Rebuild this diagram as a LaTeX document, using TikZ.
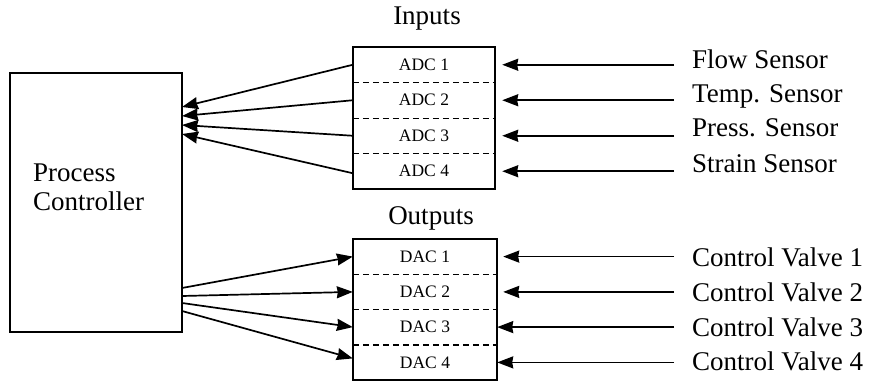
\documentclass[tikz,border=0pt]{standalone}
\usepackage{fontspec}
\setmainfont{Liberation Serif}
\usetikzlibrary{arrows.meta}
\begin{document}
\begin{tikzpicture}[x=1pt,y=-1pt,
  big/.style={font=\fontsize{27}{29}\selectfont, inner sep=0pt},
  lbl/.style={font=\fontsize{27}{29}\selectfont, inner ysep=0pt, inner xsep=18pt, anchor=base west},
  cell/.style={minimum height=35.5pt, inner sep=0pt, font=\fontsize{17.5}{19}\selectfont},
  box/.style={draw, line width=1.6pt},
  sepline/.style={line width=1.2pt, dash pattern=on 6pt off 4pt},
  arr/.style={line width=1.7pt, -{Stealth[length=16pt,width=12pt,inset=1pt]}},
]
\useasboundingbox (0,0) rectangle (877,382);

% controller
\node[box, minimum width=172pt, minimum height=259pt, inner sep=0pt] (ctrl) at (96,202.5) {};
\node[big, align=left, anchor=north west] (pc) at (33,164) {Process\\Controller};

% inputs
\node[big, anchor=base] (inp) at (427,25) {Inputs};
\node[cell, minimum width=142pt] (a1) at (424,64.75) {ADC 1};
\node[cell, minimum width=142pt] (a2) at (424,100.25) {ADC 2};
\node[cell, minimum width=142pt] (a3) at (424,135.75) {ADC 3};
\node[cell, minimum width=142pt] (a4) at (424,171.25) {ADC 4};
\draw[box] (a1.north west) rectangle (a4.south east);
\draw[sepline] (a1.south west) -- (a1.south east);
\draw[sepline] (a2.south west) -- (a2.south east);
\draw[sepline] (a3.south west) -- (a3.south east);

% outputs
\node[big, anchor=base] (outp) at (431,224) {Outputs};
\node[cell, minimum width=144pt, minimum height=35.25pt] (d1) at (425,256.6) {DAC 1};
\node[cell, minimum width=144pt, minimum height=35.25pt] (d2) at (425,291.9) {DAC 2};
\node[cell, minimum width=144pt, minimum height=35.25pt] (d3) at (425,327.1) {DAC 3};
\node[cell, minimum width=144pt, minimum height=35.25pt] (d4) at (425,362.4) {DAC 4};
\draw[box] (d1.north west) rectangle (d4.south east);
\draw[sepline] (d1.south west) -- (d1.south east);
\draw[sepline] (d2.south west) -- (d2.south east);
\draw[sepline] (d3.south west) -- (d3.south east);

% sensor labels
\node[lbl] (s1) at (674,69) {Flow Sensor};
\node[lbl] (s2) at (674,103) {Temp. Sensor};
\node[lbl] (s3) at (674,137) {Press. Sensor};
\node[lbl] (s4) at (674,172) {Strain Sensor};
\node[lbl] (v1) at (674,266) {Control Valve 1};
\node[lbl] (v2) at (674,301) {Control Valve 2};
\node[lbl] (v3) at (674,336) {Control Valve 3};
\node[lbl] (v4) at (674,370) {Control Valve 4};

\foreach \i in {1,...,4}{
  \draw[arr, shorten >=7pt] (s\i.west |- a\i.east) -- (a\i.east);
}
\draw[arr, shorten >=6pt] (v1.west |- d1.east) -- (d1.east);
\draw[arr, shorten >=6pt] (v2.west |- d2.east) -- (d2.east);
\draw[arr] (v3.west |- d3.east) -- (d3.east);
\draw[arr] (v4.west |- d4.east) -- (d4.east);

% controller connection points
\coordinate (ci1) at (182,107);
\coordinate (ci2) at (182,116);
\coordinate (ci3) at (182,125);
\coordinate (ci4) at (182,134);
\coordinate (co1) at (182,288);
\coordinate (co2) at (182,296);
\coordinate (co3) at (182,303);
\coordinate (co4) at (182,311);

\draw[arr] (a1.west) -- (ci1);
\draw[arr] (a2.west) -- (ci2);
\draw[arr] (a3.west) -- (ci3);
\draw[arr] ([yshift=-2pt]a4.west) -- (ci4);

\draw[arr] (co1) -- (d1.west);
\draw[arr] (co2) -- (d2.west);
\draw[arr] (co3) -- (d3.west);
\draw[arr] (co4) -- ([yshift=4pt]d4.west);
\end{tikzpicture}
\end{document}
